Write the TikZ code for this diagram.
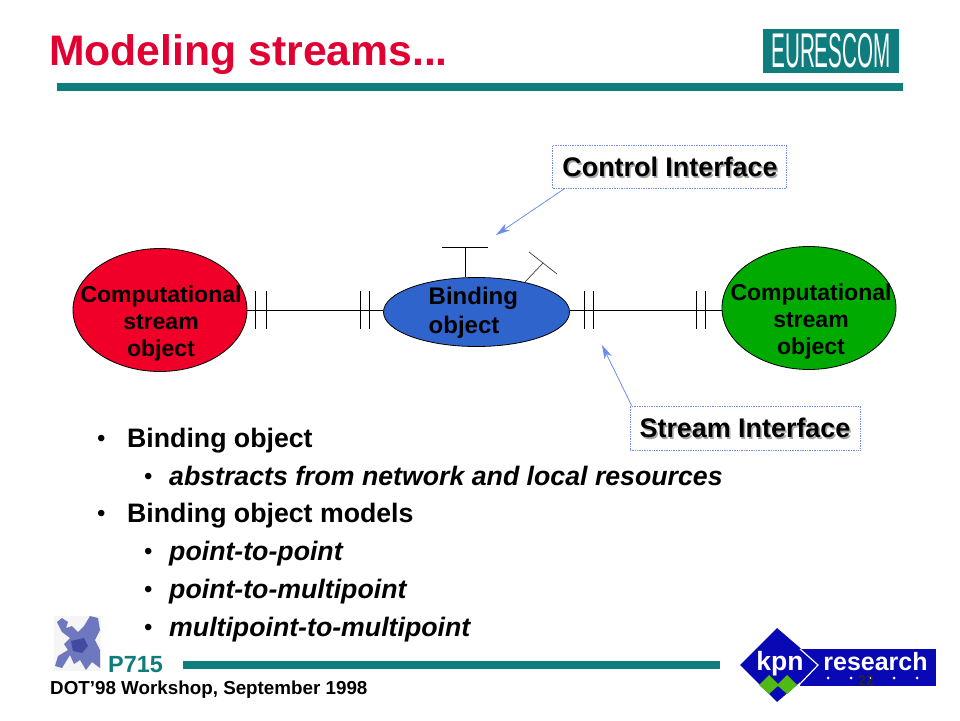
\documentclass[tikz,border=0pt]{standalone}
\usepackage{fontspec}
\usepackage{graphicx}
\setmainfont{Liberation Sans}
\usetikzlibrary{shapes.geometric,arrows.meta}
\definecolor{teal1}{RGB}{15,125,125}
\definecolor{redt}{RGB}{225,0,50}
\definecolor{blueo}{RGB}{48,100,205}
\definecolor{greeno}{RGB}{0,170,0}
\definecolor{redo}{RGB}{240,0,40}
\definecolor{arrowb}{RGB}{110,140,235}
\definecolor{kpnb}{RGB}{8,8,180}
\definecolor{kpng}{RGB}{80,185,20}
\definecolor{eurob}{RGB}{110,120,190}
\definecolor{euroc}{RGB}{65,75,160}
\tikzset{
  x=1pt,y=1pt,
  objlabel/.style={font=\fontsize{23}{27}\selectfont\bfseries,align=center,inner sep=0pt},
  oval/.style={ellipse,draw=black,line width=0.8pt,inner sep=0pt},
  wire/.style={line width=0.9pt,black},
  callout/.style={draw=arrowb,densely dotted,line width=0.7pt,fill=white,inner sep=0pt},
  pointer/.style={draw=arrowb,line width=0.8pt,-{Stealth[length=14pt,width=8pt,inset=4pt]}},
  tealbar/.style={fill=teal1,draw=none},
  itemA/.style={anchor=base west,inner sep=0pt,font=\fontsize{26.7}{26.7}\selectfont\bfseries},
  itemB/.style={anchor=base west,inner sep=0pt,font=\fontsize{26.7}{26.7}\selectfont\bfseries\itshape},
  itemdot/.style={anchor=base west,inner sep=0pt,font=\fontsize{24}{24}\selectfont},
  shadowtext/.style={inner sep=0pt,font=\fontsize{26.9}{26.9}\selectfont\bfseries},
}
\begin{document}
\begin{tikzpicture}
\useasboundingbox (0,0) rectangle (960,-720);
% title
\node[anchor=base west,inner sep=0pt,text=redt,font=\fontsize{42.7}{42.7}\selectfont\bfseries] (title) at (49,-65) {Modeling streams...};
\fill[tealbar] (57,-83) rectangle (903,-91);
% eurescom
\fill[teal1] (763,-29) rectangle (899,-73);
\node[text=white,inner sep=0pt] (eures) at (831,-51) {\resizebox{119pt}{34pt}{EURESCOM}};
% objects
\node[oval,fill=redo,minimum width=174pt,minimum height=123pt] (red) at (160,-310) {};
\node[oval,fill=blueo,minimum width=186pt,minimum height=69pt] (bind) at (476.5,-312) {};
\node[oval,fill=greeno,minimum width=174pt,minimum height=123pt] (green) at (809,-308) {};
\node[objlabel] (redl) at (161,-324) {Computational\\stream\\object};
\node[objlabel] (greenl) at (811,-322) {Computational\\stream\\object};
\node[objlabel,align=left,anchor=west,font=\fontsize{24}{29}\selectfont\bfseries] (bindl) at (428.5,-313) {Binding\\object};
% wires
\draw[wire] (red.east |- 0,-310) -- (bind.west |- 0,-310);
\draw[wire] (bind.east |- 0,-310) -- (green.west |- 0,-310);
\foreach \x in {255,266,360,369,584,593,696,705}
  \draw[wire] (\x,-291) -- (\x,-329);
% control interfaces
\coordinate (t1) at (465,-277);
\coordinate (t1a) at (442,-247);
\coordinate (t1b) at (488,-247);
\coordinate (t1c) at (465,-247);
\draw[wire] (t1a) -- (t1b);
\draw[wire] (t1c) -- (t1);
\coordinate (t2a) at (529,-252);
\coordinate (t2b) at (557,-274);
\coordinate (t2c) at (543,-263);
\coordinate (t2d) at (525,-282);
\draw[line width=0.7pt,black!75] (t2a) -- (t2b);
\draw[line width=0.7pt,black!75] (t2c) -- (t2d);
% callouts
\node[callout,minimum width=234pt,minimum height=43pt] (ctrl) at (669.5,-167) {};
\node[shadowtext,text=black!35] (ctrls) at (671.5,-168.5) {Control Interface};
\node[shadowtext] (ctrlt) at (670,-167) {Control Interface};
\node[callout,minimum width=230pt,minimum height=44pt] (strm) at (745,-428) {};
\node[shadowtext,text=black!35] (strms) at (746.5,-429.5) {Stream Interface};
\node[shadowtext] (strmt) at (745,-428) {Stream Interface};
\coordinate (p1) at (496,-235);
\coordinate (p2) at (602,-345);
\draw[pointer] (ctrl.south west) ++(12,0) coordinate (q1) -- (p1);
\draw[pointer] (strm.north west) ++(2,0) coordinate (q2) -- (p2);
% bullets
\node[itemdot] (b1d) at (97,-446) {•};
\node[itemA] (b1) at (127,-447) {Binding object};
\node[itemdot] (b2d) at (144,-484) {•};
\node[itemB] (b2) at (169,-485) {abstracts from network and local resources};
\node[itemdot] (b3d) at (97,-521) {•};
\node[itemA] (b3) at (127,-522) {Binding object models};
\node[itemdot] (b4d) at (144,-559) {•};
\node[itemB] (b4) at (169,-560) {point-to-point};
\node[itemdot] (b5d) at (144,-597) {•};
\node[itemB] (b5) at (169,-598) {point-to-multipoint};
\node[itemdot] (b6d) at (144,-635) {•};
\node[itemB] (b6) at (169,-636) {multipoint-to-multipoint};
% europe map
\fill[black!4] (54,-616) rectangle (101,-671);
\fill[eurob] (57,-622) -- (62,-618) -- (68,-622) -- (66,-628) -- (72,-626) -- (78,-632) -- (84,-626) -- (90,-616) -- (98,-618) -- (100,-630) -- (95,-640) -- (100,-650) -- (100,-668) -- (92,-662) -- (86,-670) -- (80,-660) -- (74,-664) -- (70,-655) -- (62,-668) -- (55,-666) -- (58,-656) -- (68,-650) -- (64,-644) -- (70,-638) -- (62,-632) -- cycle;
\fill[euroc] (71,-641) -- (84,-638) -- (88,-646) -- (82,-653) -- (73,-651) -- cycle;
% footer
\node[anchor=base west,inner sep=0pt,text=teal1,font=\fontsize{23.4}{23.4}\selectfont\bfseries] (p715) at (108,-672) {P715};
\fill[tealbar] (183,-661) rectangle (720,-669);
\node[anchor=base west,inner sep=0pt,font=\fontsize{18.8}{18.8}\selectfont\bfseries] (dot) at (50,-694.5) {DOT’98 Workshop, September 1998};
% kpn logo
\fill[kpnb] (800,-649) rectangle (936,-686);
\fill[kpnb] (777,-628) -- (820,-665) -- (777,-702) -- (740,-665) -- cycle;
\draw[white,line width=1.2pt] (800,-649) -- (818,-665) -- (798,-686);
\fill[kpng] (769,-675) -- (779,-685) -- (769,-694) -- (759,-685) -- cycle;
\fill[kpng] (787,-675) -- (797,-685) -- (787,-694) -- (777,-685) -- cycle;
\node[text=white,inner sep=0pt,font=\fontsize{26.5}{26.5}\selectfont\bfseries] (kpn) at (780,-664) {kpn};
\node[text=white,inner sep=0pt,font=\fontsize{25}{25}\selectfont\bfseries] (res) at (875.5,-662) {research};
\foreach \x in {828,851,871,894,917}
  \fill[white] (\x,-678) circle (1.5);
\node[inner sep=0pt,font=\fontsize{14}{14}\selectfont\bfseries,text=black!85] (num) at (866,-681) {22};
\end{tikzpicture}
\end{document}
